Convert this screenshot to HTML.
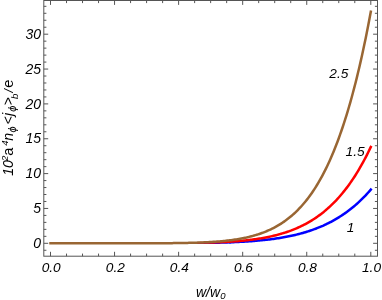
<!DOCTYPE html><html><head><meta charset="utf-8"><style>html,body{margin:0;padding:0;background:#fff}svg{display:block;will-change:transform}text{font-family:"Liberation Sans",sans-serif;font-style:italic;fill:#000}</style></head><body>
<svg width="382" height="300" viewBox="0 0 382 300">
<rect width="382" height="300" fill="#fff"/>
<polygon points="51.78,244.00 53.06,244.00 54.34,244.00 55.62,244.00 56.91,244.00 58.19,244.00 59.47,244.00 60.75,244.00 62.03,244.00 63.31,244.00 64.59,244.00 65.87,244.00 67.16,244.00 68.44,244.00 69.72,244.00 71.00,244.00 72.28,244.00 73.56,244.00 74.84,244.00 76.12,244.00 77.41,244.00 78.69,244.00 79.97,244.00 81.25,244.00 82.53,244.00 83.81,244.00 85.09,244.00 86.37,244.00 87.65,244.00 88.94,244.00 90.22,244.00 91.50,244.00 92.78,244.00 94.06,244.00 95.34,244.00 96.62,244.00 97.90,244.00 99.19,244.00 100.47,244.00 101.75,244.00 103.03,244.00 104.31,244.00 105.59,244.00 106.87,244.00 108.15,244.00 109.44,244.00 110.72,244.00 112.00,244.00 113.28,244.00 114.56,244.00 115.84,244.00 117.12,244.00 118.40,244.00 119.68,244.00 120.97,244.00 122.25,244.00 123.53,244.00 124.81,244.00 126.09,244.00 127.37,244.00 128.65,244.00 129.93,244.00 131.22,244.00 132.50,244.00 133.78,244.00 135.06,243.99 136.34,243.99 137.62,243.99 138.90,243.99 140.18,243.99 141.47,243.99 142.75,243.99 144.03,243.99 145.31,243.99 146.59,243.99 147.87,243.99 149.15,243.98 150.43,243.98 151.72,243.98 153.00,243.98 154.28,243.98 155.56,243.98 156.84,243.97 158.12,243.97 159.40,243.97 160.68,243.97 161.97,243.96 163.25,243.96 164.53,243.96 165.81,243.95 167.09,243.95 168.37,243.95 169.65,243.94 170.94,243.94 172.22,243.93 173.50,243.93 174.78,243.92 176.06,243.92 177.34,243.91 178.62,243.90 179.91,243.92 181.19,243.93 182.47,243.94 183.75,243.95 185.03,243.96 186.31,243.97 187.59,243.97 188.88,243.98 190.16,243.99 191.44,244.00 192.72,244.00 194.00,244.01 195.29,244.01 196.57,244.02 197.85,244.02 199.13,244.02 200.41,244.03 201.70,244.03 202.98,244.03 204.26,244.03 205.54,244.03 206.82,244.02 208.11,244.02 209.39,244.01 210.67,244.01 211.96,244.00 213.24,243.99 214.52,243.98 215.80,243.97 217.09,243.96 218.37,243.93 219.65,243.90 220.93,243.86 222.22,243.82 223.50,243.79 224.78,243.75 226.07,243.70 227.35,243.66 228.63,243.61 229.92,243.57 231.20,243.52 231.10,241.02 229.82,241.07 228.54,241.12 227.26,241.16 225.98,241.20 224.70,241.25 223.42,241.29 222.14,241.32 220.86,241.36 219.59,241.40 218.31,241.43 217.03,241.46 215.75,241.51 214.47,241.56 213.19,241.60 211.91,241.65 210.63,241.69 209.35,241.74 208.07,241.78 206.79,241.82 205.51,241.86 204.23,241.89 202.95,241.93 201.67,241.97 200.39,242.00 199.11,242.04 197.83,242.07 196.55,242.11 195.27,242.14 193.99,242.17 192.70,242.20 191.42,242.23 190.14,242.26 188.86,242.29 187.58,242.32 186.30,242.35 185.02,242.37 183.74,242.40 182.46,242.43 181.18,242.45 179.90,242.48 178.62,242.50 177.34,242.51 176.05,242.52 174.77,242.52 173.49,242.53 172.21,242.53 170.93,242.54 169.65,242.54 168.37,242.55 167.09,242.55 165.81,242.55 164.52,242.56 163.24,242.56 161.96,242.56 160.68,242.57 159.40,242.57 158.12,242.57 156.84,242.57 155.56,242.58 154.28,242.58 153.00,242.58 151.71,242.58 150.43,242.58 149.15,242.58 147.87,242.59 146.59,242.59 145.31,242.59 144.03,242.59 142.75,242.59 141.46,242.59 140.18,242.59 138.90,242.59 137.62,242.59 136.34,242.59 135.06,242.59 133.78,242.60 132.50,242.60 131.22,242.60 129.93,242.60 128.65,242.60 127.37,242.60 126.09,242.60 124.81,242.60 123.53,242.60 122.25,242.60 120.97,242.60 119.68,242.60 118.40,242.60 117.12,242.60 115.84,242.60 114.56,242.60 113.28,242.60 112.00,242.60 110.72,242.60 109.44,242.60 108.15,242.60 106.87,242.60 105.59,242.60 104.31,242.60 103.03,242.60 101.75,242.60 100.47,242.60 99.19,242.60 97.90,242.60 96.62,242.60 95.34,242.60 94.06,242.60 92.78,242.60 91.50,242.60 90.22,242.60 88.94,242.60 87.65,242.60 86.37,242.60 85.09,242.60 83.81,242.60 82.53,242.60 81.25,242.60 79.97,242.60 78.69,242.60 77.41,242.60 76.12,242.60 74.84,242.60 73.56,242.60 72.28,242.60 71.00,242.60 69.72,242.60 68.44,242.60 67.16,242.60 65.87,242.60 64.59,242.60 63.31,242.60 62.03,242.60 60.75,242.60 59.47,242.60 58.19,242.60 56.91,242.60 55.62,242.60 54.34,242.60 53.06,242.60 51.78,242.60" fill="#0000ff"/>
<polyline points="229.87,242.32 231.15,242.27 232.43,242.22 233.71,242.16 234.99,242.11 236.27,242.05 237.56,241.99 238.84,241.92 240.12,241.86 241.40,241.79 242.68,241.72 243.96,241.64 245.24,241.57 246.52,241.49 247.80,241.40 249.09,241.32 250.37,241.23 251.65,241.13 252.93,241.04 254.21,240.94 255.49,240.83 256.77,240.72 258.05,240.61 259.34,240.49 260.62,240.37 261.90,240.25 263.18,240.12 264.46,239.98 265.74,239.84 267.02,239.70 268.30,239.55 269.59,239.40 270.87,239.23 272.15,239.07 273.43,238.90 274.71,238.72 275.99,238.54 277.27,238.35 278.55,238.15 279.83,237.95 281.12,237.74 282.40,237.52 283.68,237.30 284.96,237.06 286.24,236.83 287.52,236.58 288.80,236.32 290.08,236.06 291.37,235.79 292.65,235.51 293.93,235.22 295.21,234.92 296.49,234.62 297.77,234.30 299.05,233.97 300.33,233.64 301.62,233.29 302.90,232.93 304.18,232.56 305.46,232.18 306.74,231.79 308.02,231.39 309.30,230.97 310.58,230.55 311.86,230.11 313.15,229.65 314.43,229.19 315.71,228.71 316.99,228.21 318.27,227.71 319.55,227.18 320.83,226.65 322.11,226.09 323.40,225.53 324.68,224.94 325.96,224.34 327.24,223.73 328.52,223.09 329.80,222.44 331.08,221.77 332.36,221.08 333.65,220.38 334.93,219.65 336.21,218.91 337.49,218.14 338.77,217.36 340.05,216.55 341.33,215.72 342.61,214.88 343.89,214.00 345.18,213.11 346.46,212.19 347.74,211.25 349.02,210.29 350.30,209.30 351.58,208.28 352.86,207.24 354.14,206.17 355.43,205.08 356.71,203.96 357.99,202.81 359.27,201.63 360.55,200.42 361.83,199.18 363.11,197.91 364.39,196.61 365.68,195.28 366.96,193.92 368.24,192.52 369.52,191.09 370.80,189.63" fill="none" stroke="#0000ff" stroke-width="2.5" stroke-linecap="square" stroke-linejoin="round"/>
<polygon points="51.78,244.00 53.06,244.00 54.34,244.00 55.62,244.00 56.91,244.00 58.19,244.00 59.47,244.00 60.75,244.00 62.03,244.00 63.31,244.00 64.59,244.00 65.87,244.00 67.16,244.00 68.44,244.00 69.72,244.00 71.00,244.00 72.28,244.00 73.56,244.00 74.84,244.00 76.12,244.00 77.41,244.00 78.69,244.00 79.97,244.00 81.25,244.00 82.53,244.00 83.81,244.00 85.09,244.00 86.37,244.00 87.65,244.00 88.94,244.00 90.22,244.00 91.50,244.00 92.78,244.00 94.06,244.00 95.34,244.00 96.62,244.00 97.90,244.00 99.19,244.00 100.47,244.00 101.75,244.00 103.03,244.00 104.31,244.00 105.59,244.00 106.87,244.00 108.15,244.00 109.44,244.00 110.72,244.00 112.00,244.00 113.28,244.00 114.56,244.00 115.84,244.00 117.12,244.00 118.40,244.00 119.68,244.00 120.97,244.00 122.25,244.00 123.53,244.00 124.81,244.00 126.09,244.00 127.37,244.00 128.65,244.00 129.93,243.99 131.22,243.99 132.50,243.99 133.78,243.99 135.06,243.99 136.34,243.99 137.62,243.99 138.90,243.99 140.18,243.99 141.47,243.99 142.75,243.99 144.03,243.98 145.31,243.98 146.59,243.98 147.87,243.98 149.15,243.98 150.43,243.97 151.72,243.97 153.00,243.97 154.28,243.97 155.56,243.96 156.84,243.96 158.12,243.96 159.40,243.95 160.69,243.95 161.97,243.94 163.25,243.94 164.53,243.93 165.81,243.93 167.09,243.92 168.37,243.92 169.66,243.91 170.94,243.90 172.22,243.89 173.50,243.89 174.78,243.88 176.06,243.87 177.34,243.86 178.63,243.85 179.91,243.86 181.19,243.86 182.47,243.87 183.75,243.87 185.03,243.88 186.32,243.88 187.60,243.89 188.88,243.89 190.16,243.89 191.45,243.89 192.73,243.89 194.01,243.88 195.29,243.88 196.57,243.88 197.86,243.87 199.14,243.86 200.42,243.86 201.70,243.85 202.99,243.83 204.27,243.82 205.55,243.81 206.84,243.79 208.12,243.77 209.40,243.75 210.69,243.73 211.97,243.71 213.25,243.68 214.54,243.65 215.82,243.62 217.11,243.59 218.39,243.54 219.67,243.48 220.96,243.42 222.24,243.36 223.53,243.30 224.81,243.23 226.09,243.16 227.38,243.09 228.66,243.01 229.95,242.93 231.23,242.85 231.07,240.35 229.79,240.44 228.51,240.52 227.23,240.59 225.95,240.66 224.68,240.73 223.40,240.80 222.12,240.86 220.84,240.93 219.56,240.98 218.28,241.04 217.01,241.09 215.73,241.16 214.45,241.23 213.17,241.29 211.89,241.36 210.61,241.42 209.33,241.47 208.06,241.53 206.78,241.58 205.50,241.64 204.22,241.69 202.94,241.74 201.66,241.79 200.38,241.83 199.10,241.88 197.82,241.92 196.54,241.96 195.26,242.00 193.98,242.04 192.70,242.08 191.42,242.12 190.14,242.16 188.86,242.19 187.58,242.23 186.30,242.26 185.02,242.30 183.74,242.33 182.46,242.36 181.18,242.39 179.89,242.42 178.61,242.45 177.33,242.46 176.05,242.47 174.77,242.48 173.49,242.49 172.21,242.50 170.93,242.50 169.65,242.51 168.37,242.52 167.09,242.52 165.80,242.53 164.52,242.53 163.24,242.54 161.96,242.54 160.68,242.55 159.40,242.55 158.12,242.56 156.84,242.56 155.56,242.56 154.28,242.57 152.99,242.57 151.71,242.57 150.43,242.57 149.15,242.58 147.87,242.58 146.59,242.58 145.31,242.58 144.03,242.58 142.75,242.59 141.46,242.59 140.18,242.59 138.90,242.59 137.62,242.59 136.34,242.59 135.06,242.59 133.78,242.59 132.50,242.59 131.22,242.59 129.93,242.59 128.65,242.60 127.37,242.60 126.09,242.60 124.81,242.60 123.53,242.60 122.25,242.60 120.97,242.60 119.68,242.60 118.40,242.60 117.12,242.60 115.84,242.60 114.56,242.60 113.28,242.60 112.00,242.60 110.72,242.60 109.44,242.60 108.15,242.60 106.87,242.60 105.59,242.60 104.31,242.60 103.03,242.60 101.75,242.60 100.47,242.60 99.19,242.60 97.90,242.60 96.62,242.60 95.34,242.60 94.06,242.60 92.78,242.60 91.50,242.60 90.22,242.60 88.94,242.60 87.65,242.60 86.37,242.60 85.09,242.60 83.81,242.60 82.53,242.60 81.25,242.60 79.97,242.60 78.69,242.60 77.41,242.60 76.12,242.60 74.84,242.60 73.56,242.60 72.28,242.60 71.00,242.60 69.72,242.60 68.44,242.60 67.16,242.60 65.87,242.60 64.59,242.60 63.31,242.60 62.03,242.60 60.75,242.60 59.47,242.60 58.19,242.60 56.91,242.60 55.62,242.60 54.34,242.60 53.06,242.60 51.78,242.60" fill="#ff0000"/>
<polyline points="229.87,241.68 231.15,241.60 232.43,241.51 233.71,241.42 234.99,241.33 236.27,241.23 237.56,241.13 238.84,241.02 240.12,240.91 241.40,240.79 242.68,240.67 243.96,240.55 245.24,240.41 246.52,240.28 247.80,240.14 249.09,239.99 250.37,239.83 251.65,239.67 252.93,239.51 254.21,239.34 255.49,239.16 256.77,238.97 258.05,238.78 259.34,238.58 260.62,238.37 261.90,238.15 263.18,237.93 264.46,237.70 265.74,237.46 267.02,237.21 268.30,236.95 269.59,236.68 270.87,236.40 272.15,236.11 273.43,235.82 274.71,235.51 275.99,235.19 277.27,234.86 278.55,234.52 279.83,234.16 281.12,233.80 282.40,233.42 283.68,233.03 284.96,232.62 286.24,232.20 287.52,231.77 288.80,231.32 290.08,230.86 291.37,230.39 292.65,229.89 293.93,229.39 295.21,228.86 296.49,228.32 297.77,227.76 299.05,227.18 300.33,226.59 301.62,225.98 302.90,225.34 304.18,224.69 305.46,224.02 306.74,223.32 308.02,222.61 309.30,221.87 310.58,221.11 311.86,220.33 313.15,219.52 314.43,218.69 315.71,217.84 316.99,216.96 318.27,216.05 319.55,215.12 320.83,214.16 322.11,213.17 323.40,212.16 324.68,211.11 325.96,210.04 327.24,208.93 328.52,207.79 329.80,206.62 331.08,205.42 332.36,204.18 333.65,202.91 334.93,201.61 336.21,200.27 337.49,198.89 338.77,197.47 340.05,196.01 341.33,194.52 342.61,192.98 343.89,191.41 345.18,189.79 346.46,188.13 347.74,186.42 349.02,184.67 350.30,182.87 351.58,181.03 352.86,179.14 354.14,177.19 355.43,175.20 356.71,173.16 357.99,171.06 359.27,168.92 360.55,166.71 361.83,164.45 363.11,162.14 364.39,159.76 365.68,157.33 366.96,154.83 368.24,152.28 369.52,149.66 370.80,146.97" fill="none" stroke="#ff0000" stroke-width="2.5" stroke-linecap="square" stroke-linejoin="round"/>
<polyline points="50.50,243.30 51.78,243.30 53.06,243.30 54.34,243.30 55.62,243.30 56.91,243.30 58.19,243.30 59.47,243.30 60.75,243.30 62.03,243.30 63.31,243.30 64.59,243.30 65.87,243.30 67.16,243.30 68.44,243.30 69.72,243.30 71.00,243.30 72.28,243.30 73.56,243.30 74.84,243.30 76.12,243.30 77.41,243.30 78.69,243.30 79.97,243.30 81.25,243.30 82.53,243.30 83.81,243.30 85.09,243.30 86.37,243.30 87.65,243.30 88.94,243.30 90.22,243.30 91.50,243.30 92.78,243.30 94.06,243.30 95.34,243.30 96.62,243.30 97.90,243.30 99.19,243.30 100.47,243.30 101.75,243.30 103.03,243.30 104.31,243.30 105.59,243.30 106.87,243.30 108.15,243.30 109.44,243.30 110.72,243.30 112.00,243.30 113.28,243.30 114.56,243.30 115.84,243.30 117.12,243.30 118.40,243.30 119.68,243.30 120.97,243.30 122.25,243.30 123.53,243.30 124.81,243.30 126.09,243.30 127.37,243.29 128.65,243.29 129.93,243.29 131.22,243.29 132.50,243.29 133.78,243.29 135.06,243.29 136.34,243.29 137.62,243.29 138.90,243.29 140.18,243.28 141.47,243.28 142.75,243.28 144.03,243.28 145.31,243.27 146.59,243.27 147.87,243.27 149.15,243.27 150.43,243.26 151.71,243.26 153.00,243.25 154.28,243.25 155.56,243.25 156.84,243.24 158.12,243.24 159.40,243.23 160.68,243.22 161.96,243.22 163.25,243.21 164.53,243.20 165.81,243.19 167.09,243.18 168.37,243.17 169.65,243.16 170.93,243.15 172.21,243.14 173.50,243.12 174.78,243.11 176.06,243.09 177.34,243.08 178.62,243.06 179.90,243.04 181.18,243.02 182.46,243.00 183.74,242.98 185.03,242.95 186.31,242.93 187.59,242.90 188.87,242.87 190.15,242.84 191.43,242.81 192.71,242.78 193.99,242.74 195.28,242.70 196.56,242.66 197.84,242.62 199.12,242.57 200.40,242.52 201.68,242.47 202.96,242.42 204.24,242.36 205.53,242.30 206.81,242.23 208.09,242.17 209.37,242.10 210.65,242.02 211.93,241.94 213.21,241.86 214.49,241.77 215.77,241.68 217.06,241.58 218.34,241.48 219.62,241.38 220.90,241.26 222.18,241.15 223.46,241.02 224.74,240.89 226.02,240.76 227.31,240.61 228.59,240.46 229.87,240.31 231.15,240.14 232.43,239.97 233.71,239.79 234.99,239.60 236.27,239.41 237.56,239.20 238.84,238.99 240.12,238.76 241.40,238.52 242.68,238.28 243.96,238.02 245.24,237.75 246.52,237.48 247.80,237.18 249.09,236.88 250.37,236.56 251.65,236.23 252.93,235.89 254.21,235.53 255.49,235.15 256.77,234.76 258.05,234.36 259.34,233.94 260.62,233.50 261.90,233.04 263.18,232.56 264.46,232.07 265.74,231.55 267.02,231.02 268.30,230.46 269.59,229.89 270.87,229.29 272.15,228.66 273.43,228.02 274.71,227.35 275.99,226.65 277.27,225.93 278.55,225.18 279.83,224.40 281.12,223.59 282.40,222.76 283.68,221.89 284.96,220.99 286.24,220.06 287.52,219.10 288.80,218.10 290.08,217.06 291.37,215.99 292.65,214.89 293.93,213.74 295.21,212.55 296.49,211.32 297.77,210.05 299.05,208.74 300.33,207.38 301.62,205.97 302.90,204.52 304.18,203.02 305.46,201.47 306.74,199.87 308.02,198.21 309.30,196.50 310.58,194.74 311.86,192.91 313.15,191.03 314.43,189.09 315.71,187.08 316.99,185.01 318.27,182.88 319.55,180.68 320.83,178.41 322.11,176.06 323.40,173.65 324.68,171.16 325.96,168.59 327.24,165.95 328.52,163.22 329.80,160.41 331.08,157.51 332.36,154.53 333.65,151.46 334.93,148.30 336.21,145.04 337.49,141.69 338.77,138.24 340.05,134.68 341.33,131.03 342.61,127.26 343.89,123.39 345.18,119.41 346.46,115.31 347.74,111.10 349.02,106.76 350.30,102.31 351.58,97.72 352.86,93.01 354.14,88.17 355.43,83.19 356.71,78.08 357.99,72.82 359.27,67.42 360.55,61.87 361.83,56.18 363.11,50.32 364.39,44.31 365.68,38.14 366.96,31.80 368.24,25.29 369.52,18.61 370.80,11.76" fill="none" stroke="#996633" stroke-width="2.5" stroke-linecap="square" stroke-linejoin="round"/>
<rect x="43.8" y="0.5" width="333.7" height="255.7" fill="none" stroke="#555" stroke-width="1"/>
<path d="M50.50,256.2v-4.4M50.50,0.5v4.4M66.52,256.2v-2.6M66.52,0.5v2.6M82.53,256.2v-2.6M82.53,0.5v2.6M98.55,256.2v-2.6M98.55,0.5v2.6M114.56,256.2v-4.4M114.56,0.5v4.4M130.57,256.2v-2.6M130.57,0.5v2.6M146.59,256.2v-2.6M146.59,0.5v2.6M162.61,256.2v-2.6M162.61,0.5v2.6M178.62,256.2v-4.4M178.62,0.5v4.4M194.64,256.2v-2.6M194.64,0.5v2.6M210.65,256.2v-2.6M210.65,0.5v2.6M226.67,256.2v-2.6M226.67,0.5v2.6M242.68,256.2v-4.4M242.68,0.5v4.4M258.70,256.2v-2.6M258.70,0.5v2.6M274.71,256.2v-2.6M274.71,0.5v2.6M290.73,256.2v-2.6M290.73,0.5v2.6M306.74,256.2v-4.4M306.74,0.5v4.4M322.76,256.2v-2.6M322.76,0.5v2.6M338.77,256.2v-2.6M338.77,0.5v2.6M354.79,256.2v-2.6M354.79,0.5v2.6M370.80,256.2v-4.4M370.80,0.5v4.4M43.8,250.27h2.6M377.5,250.27h-2.6M43.8,243.30h4.4M377.5,243.30h-4.4M43.8,236.33h2.6M377.5,236.33h-2.6M43.8,229.36h2.6M377.5,229.36h-2.6M43.8,222.39h2.6M377.5,222.39h-2.6M43.8,215.42h2.6M377.5,215.42h-2.6M43.8,208.45h4.4M377.5,208.45h-4.4M43.8,201.48h2.6M377.5,201.48h-2.6M43.8,194.51h2.6M377.5,194.51h-2.6M43.8,187.54h2.6M377.5,187.54h-2.6M43.8,180.57h2.6M377.5,180.57h-2.6M43.8,173.60h4.4M377.5,173.60h-4.4M43.8,166.63h2.6M377.5,166.63h-2.6M43.8,159.66h2.6M377.5,159.66h-2.6M43.8,152.69h2.6M377.5,152.69h-2.6M43.8,145.72h2.6M377.5,145.72h-2.6M43.8,138.75h4.4M377.5,138.75h-4.4M43.8,131.78h2.6M377.5,131.78h-2.6M43.8,124.81h2.6M377.5,124.81h-2.6M43.8,117.84h2.6M377.5,117.84h-2.6M43.8,110.87h2.6M377.5,110.87h-2.6M43.8,103.90h4.4M377.5,103.90h-4.4M43.8,96.93h2.6M377.5,96.93h-2.6M43.8,89.96h2.6M377.5,89.96h-2.6M43.8,82.99h2.6M377.5,82.99h-2.6M43.8,76.02h2.6M377.5,76.02h-2.6M43.8,69.05h4.4M377.5,69.05h-4.4M43.8,62.08h2.6M377.5,62.08h-2.6M43.8,55.11h2.6M377.5,55.11h-2.6M43.8,48.14h2.6M377.5,48.14h-2.6M43.8,41.17h2.6M377.5,41.17h-2.6M43.8,34.20h4.4M377.5,34.20h-4.4M43.8,27.23h2.6M377.5,27.23h-2.6M43.8,20.26h2.6M377.5,20.26h-2.6M43.8,13.29h2.6M377.5,13.29h-2.6M43.8,6.32h2.6M377.5,6.32h-2.6" stroke="#555" stroke-width="1" fill="none"/>
<text x="51.2" y="272.4" font-size="13.7" text-anchor="middle">0.0</text>
<text x="115.3" y="272.4" font-size="13.7" text-anchor="middle">0.2</text>
<text x="179.3" y="272.4" font-size="13.7" text-anchor="middle">0.4</text>
<text x="243.4" y="272.4" font-size="13.7" text-anchor="middle">0.6</text>
<text x="307.4" y="272.4" font-size="13.7" text-anchor="middle">0.8</text>
<text x="371.5" y="272.4" font-size="13.7" text-anchor="middle">1.0</text>
<text x="41" y="247.9" font-size="14" text-anchor="end">0</text>
<text x="41" y="213.1" font-size="14" text-anchor="end">5</text>
<text x="41" y="178.2" font-size="14" text-anchor="end">10</text>
<text x="41" y="143.3" font-size="14" text-anchor="end">15</text>
<text x="41" y="108.5" font-size="14" text-anchor="end">20</text>
<text x="41" y="73.7" font-size="14" text-anchor="end">25</text>
<text x="41" y="38.8" font-size="14" text-anchor="end">30</text>
<text x="348.3" y="77.5" font-size="13.7" text-anchor="end">2.5</text>
<text x="364.6" y="155.5" font-size="13.7" text-anchor="end">1.5</text>
<text x="350.5" y="232" font-size="13.7" text-anchor="middle">1</text>
<text x="196" y="297" font-size="14">w/w<tspan font-size="9.5" dy="1.8">0</tspan></text>
<g transform="translate(13.3,174.7) rotate(-90)"><text x="-1.10" y="0" font-size="14.2">10</text><text x="13.80" y="-5.5" font-size="9.5">2</text><text x="19.00" y="0" font-size="14.6" style="font-style:normal">a</text><text x="28.90" y="-5.5" font-size="9.5">4</text><text x="33.90" y="0" font-size="14.2">n</text><text x="42.10" y="3" font-size="11">ϕ</text><text x="50.10" y="0" font-size="14.2">&lt;</text><text x="58.70" y="0" font-size="14.2">j</text><text x="63.00" y="3" font-size="11">ϕ</text><text x="69.30" y="0" font-size="14.2">&gt;</text><text x="75.60" y="4.3" font-size="9.5">b</text><text x="82.20" y="0" font-size="12.5">/</text><text x="87.00" y="0" font-size="14.6" style="font-style:normal">e</text></g>
</svg></body></html>
